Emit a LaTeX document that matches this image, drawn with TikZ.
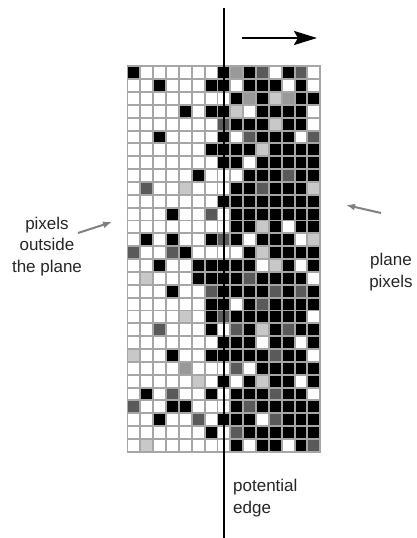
\documentclass[tikz,border=0pt]{standalone}
\usepackage{fontspec}
\setmainfont{Liberation Sans}
\usetikzlibrary{arrows.meta}
\definecolor{cB}{HTML}{000000}
\definecolor{cW}{HTML}{FFFFFF}
\definecolor{cD}{HTML}{5A5A5A}
\definecolor{cG}{HTML}{999999}
\definecolor{cL}{HTML}{C8C8C8}
\definecolor{gridc}{HTML}{A6A6A6}
\definecolor{arrowc}{HTML}{808080}
\tikzset{
  gridline/.style={gridc, line width=1.9pt},
  lbl/.style={font=\fontsize{17}{21.5}\selectfont, inner sep=0pt, text=black!85},
  grayarrow/.style={arrowc, line width=2pt, -{Latex[length=9pt,width=7pt]}},
  edgeline/.style={black, line width=2.5pt},
  movearrow/.style={black, line width=2.6pt, -{Stealth[length=23pt,width=14pt,inset=4pt]}}
}
\begin{document}
\begin{tikzpicture}[x=1pt,y=-1pt]
\useasboundingbox (0,0) rectangle (416,538);
\fill[white] (0,0) rectangle (416,538);
\def\gx{127.5}
\def\gy{66.3}
\def\cs{12.85}
\foreach \rowdata [count=\r] in {
{B,W,W,W,W,W,W,B,G,B,D,W,B,D,W},
{W,W,B,W,W,W,B,B,W,B,B,B,W,B,W},
{W,W,W,W,W,W,W,W,B,G,B,L,G,B,B},
{W,W,W,W,B,W,B,B,L,W,B,B,B,B,W},
{W,W,W,W,W,W,W,D,B,B,B,L,B,B,W},
{W,W,B,W,W,W,W,B,W,D,B,B,B,W,D},
{W,W,W,W,W,W,B,B,B,B,L,B,B,B,B},
{W,W,W,W,W,W,W,B,B,W,B,B,B,B,B},
{W,W,W,W,W,B,W,W,W,B,B,B,D,B,B},
{W,D,W,W,L,W,W,W,B,B,D,B,B,B,L},
{W,W,W,W,W,W,W,B,B,B,B,B,B,B,B},
{W,W,W,B,W,W,D,W,B,B,B,B,B,B,B},
{W,W,W,W,W,W,W,W,B,B,L,B,W,B,B},
{W,B,W,B,W,W,B,D,B,W,B,B,B,W,L},
{D,W,W,D,B,W,W,W,W,B,L,B,B,B,B},
{W,W,B,W,W,B,B,B,B,B,W,L,B,W,B},
{W,L,W,W,W,B,B,B,B,D,B,B,B,B,W},
{W,W,W,B,W,W,D,B,B,B,B,D,B,D,B},
{W,W,W,W,W,W,B,B,W,B,D,B,B,B,B},
{W,W,W,W,L,W,B,D,B,B,B,B,B,B,W},
{W,W,D,W,W,W,B,W,D,B,L,B,D,B,B},
{W,W,W,W,W,W,W,B,B,B,W,B,B,W,B},
{L,W,W,B,W,W,B,B,B,B,B,D,B,B,W},
{W,W,W,W,G,W,W,W,D,W,B,B,B,B,B},
{W,W,W,W,W,L,W,B,W,B,L,B,B,W,B},
{W,B,W,D,W,W,B,W,B,B,B,D,B,B,W},
{D,W,W,B,B,W,W,W,B,D,B,B,B,B,B},
{W,W,B,W,W,D,W,B,B,B,W,D,B,B,B},
{W,W,W,W,W,W,B,W,D,B,B,B,B,B,B},
{W,L,W,W,W,W,W,W,B,W,B,B,W,B,D}} {
  \foreach \c [count=\k] in \rowdata {
    \fill[fill=c\c] ({\gx+(\k-1)*\cs},{\gy+(\r-1)*\cs}) rectangle ++(\cs,\cs);
  }
}
\foreach \i in {0,...,15} \draw[gridline] ({\gx+\i*\cs},\gy) -- ++(0,{30*\cs});
\foreach \j in {0,...,30} \draw[gridline] ({\gx-0.95},{\gy+\j*\cs}) -- ++({15*\cs+1.9},0);

\coordinate (edgetop) at (224,8);
\coordinate (edgebot) at (224,538);
\draw[edgeline] (edgetop) -- (edgebot);

\coordinate (moveA) at (242,38);
\coordinate (moveB) at (317,38);
\draw[movearrow] (moveA) -- (moveB);

\node[lbl, align=center] (outside) at (47,246.5) {pixels\\outside\\the plane};
\node[lbl, align=center] (plane) at (391,272) {plane\\pixels};
\node[lbl, align=left, anchor=north west] (edge) at (233,479) {potential\\edge};

\coordinate (la1) at (78,233);
\coordinate (la2) at (112,222);
\draw[grayarrow] (la1) -- (la2);
\coordinate (ra1) at (381,213);
\coordinate (ra2) at (346,205);
\draw[grayarrow] (ra1) -- (ra2);
\end{tikzpicture}
\end{document}
